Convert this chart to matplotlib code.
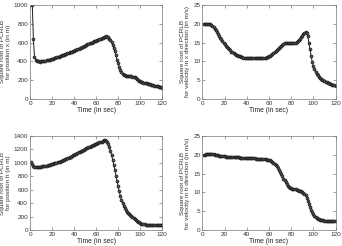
import matplotlib
matplotlib.use("Agg")
import matplotlib.pyplot as plt
import numpy as np

plt.rcParams['font.family'] = ['Liberation Sans', 'DejaVu Sans']

# time axis (s)
time_s = np.arange(1, 121)

# PCRLB square root, position x (m)
pos_x = [1250, 1000, 640, 450, 418, 405, 400, 398, 397, 398,
         400, 402, 404, 407, 410, 413, 416, 419, 422, 425,
         429, 433, 437, 441, 445, 449, 453, 457, 462, 466,
         471, 475, 480, 484, 489, 494, 499, 504, 509, 514,
         519, 524, 530, 535, 540, 546, 551, 557, 562, 568,
         573, 579, 584, 590, 595, 600, 606, 611, 616, 621,
         626, 631, 636, 641, 646, 651, 656, 662, 665, 663,
         655, 642, 624, 602, 575, 543, 505, 462, 418, 377,
         340, 309, 285, 268, 257, 250, 246, 244, 243, 242,
         241, 240, 238, 235, 229, 220, 210, 200, 193, 187,
         182, 178, 174, 170, 167, 164, 160, 157, 154, 151,
         148, 145, 142, 139, 136, 133, 130, 127, 124, 121]

# PCRLB square root, velocity x (m/s)
vel_x = [20.0, 20.0, 20.0, 20.0, 20.0, 19.9, 19.8, 19.6, 19.3, 19.0,
         18.6, 18.2, 17.7, 17.3, 16.8, 16.3, 15.9, 15.4, 15.0, 14.6,
         14.2, 13.8, 13.5, 13.2, 12.9, 12.6, 12.4, 12.2, 12.0, 11.8,
         11.7, 11.5, 11.4, 11.3, 11.2, 11.1, 11.0, 11.0, 10.9, 10.9,
         10.8, 10.8, 10.8, 10.8, 10.8, 10.8, 10.8, 10.8, 10.8, 10.8,
         10.8, 10.8, 10.8, 10.9, 10.9, 10.9, 11.0, 11.1, 11.2, 11.3,
         11.5, 11.7, 11.9, 12.1, 12.4, 12.7, 13.0, 13.3, 13.6, 13.9,
         14.2, 14.4, 14.6, 14.8, 14.9, 15.0, 15.0, 14.9, 14.9, 14.8,
         14.8, 14.8, 14.9, 15.0, 15.2, 15.4, 15.7, 16.0, 16.4, 16.8,
         17.2, 17.6, 17.8, 17.5, 16.6, 15.0, 13.2, 11.4, 9.9, 8.8,
         7.9, 7.2, 6.7, 6.3, 5.9, 5.6, 5.4, 5.1, 4.9, 4.7,
         4.6, 4.4, 4.3, 4.1, 4.0, 3.9, 3.8, 3.7, 3.6, 3.5]

# PCRLB square root, position h (m)
pos_h = [1010, 985, 950, 942, 940, 940, 941, 942, 944, 946,
         948, 951, 954, 957, 960, 964, 968, 972, 976, 981,
         986, 991, 996, 1002, 1008, 1014, 1020, 1027, 1034, 1041,
         1048, 1055, 1063, 1071, 1079, 1087, 1095, 1103, 1112, 1120,
         1129, 1138, 1146, 1155, 1164, 1173, 1182, 1190, 1199, 1208,
         1216, 1225, 1233, 1241, 1249, 1257, 1265, 1272, 1279, 1286,
         1293, 1299, 1305, 1311, 1318, 1325, 1335, 1338, 1330, 1310,
         1275, 1232, 1180, 1118, 1050, 975, 895, 812, 730, 650,
         575, 508, 450, 400, 358, 322, 292, 268, 248, 232,
         218, 205, 193, 181, 168, 155, 140, 125, 112, 102,
         95, 90, 86, 83, 81, 79, 78, 77, 76, 75,
         74, 73, 72, 72, 71, 70, 70, 69, 69, 68]

# PCRLB square root, velocity h (m/s)
vel_h = [20.0, 20.0, 20.1, 20.1, 20.1, 20.1, 20.1, 20.1, 20.1, 20.1,
         20.0, 20.0, 19.9, 19.9, 19.8, 19.8, 19.7, 19.7, 19.6, 19.6,
         19.5, 19.5, 19.5, 19.4, 19.4, 19.4, 19.4, 19.3, 19.3, 19.3,
         19.3, 19.3, 19.3, 19.2, 19.2, 19.2, 19.2, 19.2, 19.2, 19.2,
         19.2, 19.1, 19.1, 19.1, 19.1, 19.1, 19.1, 19.0, 19.0, 19.0,
         19.0, 18.9, 18.9, 18.9, 18.8, 18.8, 18.8, 18.7, 18.7, 18.6,
         18.5, 18.3, 18.1, 17.9, 17.6, 17.3, 16.9, 16.5, 16.0, 15.5,
         14.9, 14.3, 13.7, 13.2, 12.7, 12.2, 11.8, 11.5, 11.3, 11.1,
         11.0, 10.9, 10.85, 10.8, 10.7, 10.6, 10.5, 10.4, 10.25, 10.1,
         9.9, 9.6, 9.2, 8.6, 7.8, 7.0, 6.2, 5.4, 4.7, 4.2,
         3.8, 3.4, 3.2, 3.0, 2.85, 2.7, 2.65, 2.6, 2.55, 2.5,
         2.5, 2.5, 2.5, 2.5, 2.5, 2.5, 2.5, 2.5, 2.5, 2.5]

panels = [
    (pos_x, (0, 1000), np.arange(0, 1001, 200),
     "Square root of PCRLB\nfor position x (in m)"),
    (vel_x, (0, 25), np.arange(0, 26, 5),
     "Square root of PCRLB\nfor velocity in x direction (in m/s)"),
    (pos_h, (0, 1400), np.arange(0, 1401, 200),
     "Square root of PCRLB\nfor position h (in m)"),
    (vel_h, (0, 25), np.arange(0, 26, 5),
     "Square root of PCRLB\nfor velocity in h direction (in m/s)"),
]

# axes rectangles in figure fractions (left, bottom, width, height)
rects = [
    (0.088, 0.598, 0.386, 0.382),
    (0.592, 0.598, 0.389, 0.382),
    (0.088, 0.065, 0.386, 0.382),
    (0.592, 0.065, 0.389, 0.382),
]

fig = plt.figure(figsize=(3.42, 2.46), dpi=100)
fs = 4.6

for (vals, ylim, yticks, ylabel), rect in zip(panels, rects):
    ax = fig.add_axes(rect)
    ax.plot(time_s, vals, color='#1a1a1a', linewidth=0.7,
            marker='o', markersize=2.1, markeredgewidth=0.5,
            markerfacecolor='#555555')
    ax.set_xlim(0, 120)
    ax.set_ylim(*ylim)
    ax.set_xticks(np.arange(0, 121, 20))
    ax.set_yticks(yticks)
    ax.tick_params(direction='in', length=2, width=0.4, labelsize=fs,
                   top=True, right=True, pad=1.5, colors='#555555',
                   labelcolor='#333333')
    for s in ax.spines.values():
        s.set_linewidth(0.5)
        s.set_color('#777777')
    ax.set_xlabel("Time (in sec)", fontsize=fs + 0.3, labelpad=1,
                  color='#222222')
    ax.set_ylabel(ylabel, fontsize=fs, labelpad=2, linespacing=1.1,
                  color='#333333')

fig.savefig("out.png", dpi=100)
